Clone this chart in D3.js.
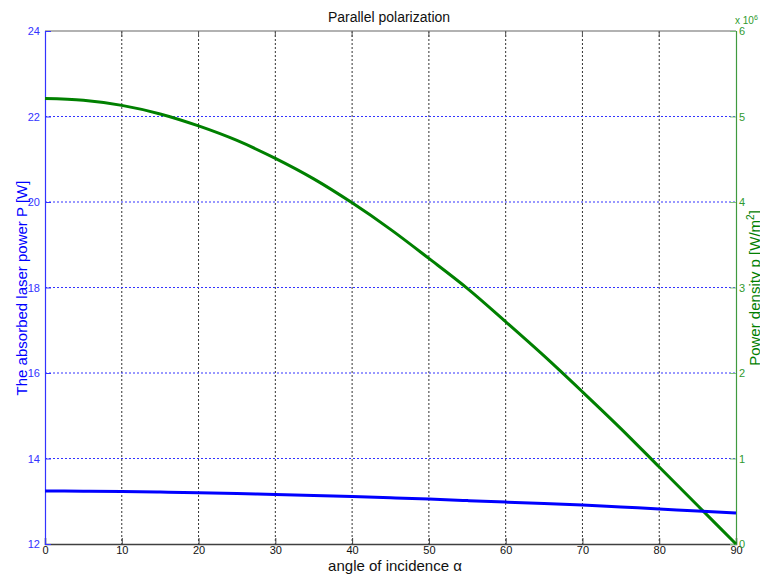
<!DOCTYPE html>
<html><head><meta charset="utf-8">
<script src="https://cdn.jsdelivr.net/npm/d3@7"></script>
<style>body{margin:0;background:#fff;overflow:hidden}svg{display:block;font-family:"Liberation Sans",Arial,sans-serif}</style>
</head><body>
<svg id="c" width="760" height="575"></svg>
<script>
const angles = [0,5,10,15,20,25,30,35,40,45,50,55,60,65,70,75,80,85,90];
const powerP = [13.24,13.235,13.23,13.215,13.20,13.18,13.16,13.135,13.11,13.08,13.05,13.015,12.98,12.945,12.91,12.865,12.82,12.77,12.725];
const densityP = [5.21,5.19,5.13,5.03,4.89,4.72,4.51,4.27,3.99,3.68,3.34,2.99,2.60,2.20,1.78,1.35,0.90,0.45,0.0];
const xTicks = [0,10,20,30,40,50,60,70,80,90];
const leftTicks = [12,14,16,18,20,22,24];
const rightTicks = [0,1,2,3,4,5,6];

const L=45,R=736,T=31,B=544;
const svg=d3.select("#c");
const x=d3.scaleLinear().domain([0,90]).range([L,R]);
const yL=d3.scaleLinear().domain([12,24]).range([B,T]);
const yR=d3.scaleLinear().domain([0,6]).range([B,T]);

// grids
svg.append("g").selectAll("line").data(xTicks.slice(1,-1)).join("line")
 .attr("x1",d=>x(d)).attr("x2",d=>x(d)).attr("y1",T).attr("y2",B)
 .attr("stroke","#333").attr("stroke-width",1).attr("stroke-dasharray","2,2");
svg.append("g").selectAll("line").data(leftTicks.slice(1,-1)).join("line")
 .attr("x1",L).attr("x2",R).attr("y1",d=>yL(d)).attr("y2",d=>yL(d))
 .attr("stroke","#3333ff").attr("stroke-width",1).attr("stroke-dasharray","2,2");

// top border
svg.append("line").attr("x1",L).attr("x2",R).attr("y1",T).attr("y2",T).attr("stroke","#999").attr("stroke-width",1.5);
svg.append("g").selectAll("line").data(xTicks.slice(1,-1)).join("line")
 .attr("x1",d=>x(d)).attr("x2",d=>x(d)).attr("y1",T).attr("y2",T+6).attr("stroke","#555");

// bottom axis
const gx=svg.append("g").attr("transform",`translate(0,${B})`)
 .call(d3.axisBottom(x).tickValues(xTicks).tickSize(-6).tickPadding(3).tickFormat(d3.format("d")));
gx.select(".domain").attr("stroke","#404040").attr("stroke-width",1.5);
gx.selectAll(".tick line").attr("stroke","#404040");
gx.selectAll("text").attr("font-size",11).attr("fill","#111").attr("dy","0.65em");

// left axis
const gl=svg.append("g").attr("transform",`translate(${L},0)`)
 .call(d3.axisLeft(yL).tickValues(leftTicks).tickSize(-6).tickPadding(5).tickFormat(d3.format("d")));
gl.select(".domain").attr("stroke","#3333ff").attr("stroke-width",1.2);
gl.selectAll(".tick line").attr("stroke","#3333ff");
gl.selectAll("text").attr("font-size",11).attr("fill","#3333ff");

// right axis
const gr=svg.append("g").attr("transform",`translate(${R},0)`)
 .call(d3.axisRight(yR).tickValues(rightTicks).tickSize(-6).tickPadding(3).tickFormat(d3.format("d")));
gr.select(".domain").attr("stroke","#3f9a3f").attr("stroke-width",1.2);
gr.selectAll(".tick line").attr("stroke","#7fc07f");
gr.selectAll("text").attr("font-size",11).attr("fill","#2f9a2f");

// curves
svg.append("path").datum(angles.map((a,i)=>[a,densityP[i]]))
 .attr("d",d3.line().x(d=>x(d[0])).y(d=>yR(d[1])).curve(d3.curveMonotoneX))
 .attr("fill","none").attr("stroke","#008000").attr("stroke-width",3);
svg.append("path").datum(angles.map((a,i)=>[a,powerP[i]]))
 .attr("d",d3.line().x(d=>x(d[0])).y(d=>yL(d[1])).curve(d3.curveMonotoneX))
 .attr("fill","none").attr("stroke","#0000ff").attr("stroke-width",3);

// texts
svg.append("text").attr("x",389).attr("y",22).attr("text-anchor","middle").attr("font-size",14).attr("fill","#111").text("Parallel polarization");
svg.append("text").attr("x",395).attr("y",571).attr("text-anchor","middle").attr("font-size",15).attr("fill","#111").text("angle of incidence α");
svg.append("text").attr("transform","translate(27,288) rotate(-90)").attr("text-anchor","middle").attr("font-size",15).attr("fill","#0000ff").text("The absorbed laser power P [W]");
const rt=svg.append("text").attr("transform","translate(760,288) rotate(-90)").attr("text-anchor","middle").attr("font-size",15).attr("fill","#008000");
rt.append("tspan").text("Power density p [W/m");
rt.append("tspan").attr("font-size",10).attr("dy",-6).text("2");
rt.append("tspan").attr("dy",6).text("]");
const ex=svg.append("text").attr("x",735).attr("y",24).attr("font-size",10).attr("fill","#2f9a2f");
ex.append("tspan").text("x 10");
ex.append("tspan").attr("font-size",7).attr("dy",-4).text("6");
</script>
</body></html>
